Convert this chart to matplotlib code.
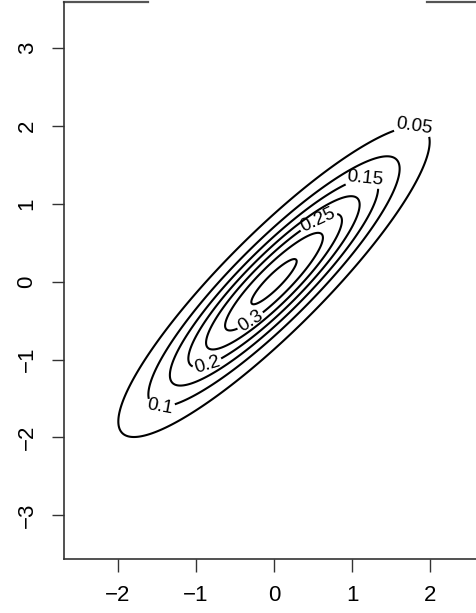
import numpy as np
import matplotlib
matplotlib.use("Agg")
import matplotlib.pyplot as plt

plt.rcParams['font.family'] = ['Liberation Sans', 'DejaVu Sans']

# bivariate normal, unit variances, correlation rho
rho = 0.9
mu = [0.0, 0.0]
levels = [0.05, 0.10, 0.15, 0.20, 0.25, 0.30, 0.35]
label_levels = [0.05, 0.10, 0.15, 0.20, 0.25, 0.30]
# rough spot of each label
label_near = [(1.68, 1.87), (-1.36, -1.50), (1.04, 1.19), (-0.79, -0.99), (0.53, 0.75), (-0.27, -0.46)]
xticks = [-2, -1, 0, 1, 2]
yticks = [-3, -2, -1, 0, 1, 2, 3]


def quad(dx, dy):
    return (dx**2 - 2 * rho * dx * dy + dy**2) / (1 - rho**2)


peak = 1 / (2 * np.pi * np.sqrt(1 - rho**2))

xs = np.linspace(-2.69, 2.69, 400)
ys = np.linspace(-3.6, 3.6, 500)
X, Y = np.meshgrid(xs, ys)
Z = peak * np.exp(-quad(X - mu[0], Y - mu[1]) / 2)

# move each label spot radially onto its own contour
label_pos = []
for lev, (px, py) in zip(label_levels, label_near):
    k = np.sqrt(2 * np.log(peak / lev) / quad(px - mu[0], py - mu[1]))
    label_pos.append((mu[0] + k * (px - mu[0]), mu[1] + k * (py - mu[1])))

fig = plt.figure(figsize=(4.76, 6.13), dpi=100)
ax = fig.add_axes([64 / 476, 54 / 613, 420 / 476, 557 / 613])

cs = ax.contour(X, Y, Z, levels=levels, colors='black', linewidths=1.5)
ax.clabel(cs, levels=label_levels, inline=True, fontsize=13.5,
          fmt=lambda v: f'{v:g}', manual=label_pos, inline_spacing=2)

ax.set_xlim(-2.69, 2.69)
ax.set_ylim(-3.56, 3.59)
ax.set_xticks(xticks)
ax.set_yticks(yticks)
ax.set_xticklabels([str(t).replace('-', '\u2212') for t in xticks])
ax.set_yticklabels([str(t).replace('-', '\u2212') for t in yticks], rotation=90, va='center')
ax.tick_params(axis='both', length=9, width=1, color='#333333', labelsize=16)
ax.tick_params(axis='x', pad=10)
ax.tick_params(axis='y', pad=10)

for s in ['left', 'bottom']:
    ax.spines[s].set_color('#333333')
    ax.spines[s].set_linewidth(1.2)
ax.spines['top'].set_visible(False)
ax.spines['right'].set_visible(False)
# top frame only shows at both ends
ax.plot([0, 0.2], [1, 1], transform=ax.transAxes, color='#555555', lw=1.6, clip_on=False)
ax.plot([0.864, 1], [1, 1], transform=ax.transAxes, color='#555555', lw=1.6, clip_on=False)

fig.savefig('out.png', dpi=100)
